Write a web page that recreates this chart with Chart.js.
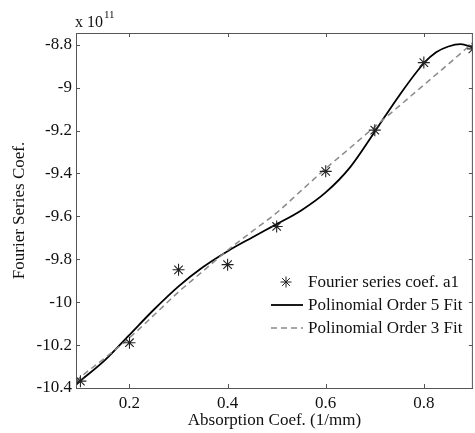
<!DOCTYPE html>
<html>
<head>
<meta charset="utf-8">
<script src="https://cdn.jsdelivr.net/npm/chart.js@4.4.1/dist/chart.umd.min.js"></script>
<style>
html, body { margin: 0; padding: 0; background: #fff; overflow: hidden; }
#wrap { width: 480px; height: 433px; position: relative; }
</style>
</head>
<body>
<div id="wrap"><canvas id="myChart"></canvas></div>
<script>
// values, y in units of 1e11
var coefX = [0.1, 0.2, 0.3, 0.4, 0.5, 0.6, 0.7, 0.8, 0.9];
var coefY = [-10.368, -10.189, -9.849, -9.825, -9.647, -9.39, -9.198, -8.883, -8.819];

var fit5X = [0.091, 0.1, 0.15, 0.2, 0.25, 0.3, 0.35, 0.4, 0.45, 0.5, 0.55, 0.6, 0.65, 0.7, 0.75, 0.8, 0.825, 0.85, 0.875, 0.9];
var fit5Y = [-10.383, -10.366, -10.27, -10.152, -10.034, -9.926, -9.836, -9.762, -9.698, -9.636, -9.572, -9.488, -9.37, -9.205, -9.036, -8.886, -8.835, -8.808, -8.797, -8.812];

var fit3X = [0.091, 0.1, 0.15, 0.2, 0.25, 0.3, 0.35, 0.4, 0.45, 0.5, 0.55, 0.6, 0.65, 0.7, 0.75, 0.8, 0.85, 0.9];
var fit3Y = [-10.37, -10.35, -10.26, -10.166, -10.06, -9.952, -9.855, -9.758, -9.67, -9.583, -9.48, -9.377, -9.28, -9.182, -9.085, -8.987, -8.89, -8.79];

var xTicks = [0.2, 0.4, 0.6, 0.8];
var yTicks = [-10.4, -10.2, -10, -9.8, -9.6, -9.4, -9.2, -9, -8.8];

var labels = ["Fourier series coef. a1", "Polinomial Order 5 Fit", "Polinomial Order 3 Fit"];

function pts(xs, ys) {
    return xs.map(function (x, i) { return { x: x, y: ys[i] }; });
}

var serif = "'Liberation Serif', 'Times New Roman', serif";
var axisColor = '#555';
var textColor = '#111';

// box, inward ticks, exponent and legend
var decorations = {
    id: 'decorations',
    afterDraw: function (chart) {
        var c = chart.ctx, a = chart.chartArea;
        var xs = chart.scales.x, ys = chart.scales.y;
        c.save();
        c.strokeStyle = axisColor;
        c.lineWidth = 1;
        c.beginPath();
        c.moveTo(a.left + 0.5, a.top + 0.5);
        c.lineTo(a.right, a.top + 0.5);
        c.moveTo(a.left + 0.5, a.top);
        c.lineTo(a.left + 0.5, a.bottom + 0.5);
        c.lineTo(a.right, a.bottom + 0.5);
        c.moveTo(a.right - 0.5, a.top);
        c.lineTo(a.right - 0.5, a.bottom);
        xTicks.forEach(function (v) {
            var px = Math.round(xs.getPixelForValue(v)) + 0.5;
            c.moveTo(px, a.bottom);
            c.lineTo(px, a.bottom - 4);
            c.moveTo(px, a.top);
            c.lineTo(px, a.top + 4);
        });
        yTicks.forEach(function (v) {
            var py = Math.round(ys.getPixelForValue(v)) + 0.5;
            c.moveTo(a.left, py);
            c.lineTo(a.left + 4, py);
            c.moveTo(a.right, py);
            c.lineTo(a.right - 4, py);
        });
        c.stroke();

        // exponent
        c.fillStyle = textColor;
        c.textBaseline = 'alphabetic';
        c.textAlign = 'left';
        c.font = '16px ' + serif;
        c.fillText('x 10', 75, 27);
        var w = c.measureText('x 10').width;
        c.font = '11px ' + serif;
        c.fillText('11', 75 + w + 1, 18);

        // legend
        var ds = chart.data.datasets;
        var rows = [282, 305, 328];
        c.font = '17px ' + serif;
        c.textBaseline = 'middle';
        for (var i = 0; i < 3; i++) {
            var d = ds[i];
            c.strokeStyle = d.borderColor;
            if (i === 0) {
                c.lineWidth = 1;
                c.beginPath();
                c.moveTo(286 - 5.5, rows[i]); c.lineTo(286 + 5.5, rows[i]);
                c.moveTo(286, rows[i] - 5.5); c.lineTo(286, rows[i] + 5.5);
                c.moveTo(286 - 3.9, rows[i] - 3.9); c.lineTo(286 + 3.9, rows[i] + 3.9);
                c.moveTo(286 - 3.9, rows[i] + 3.9); c.lineTo(286 + 3.9, rows[i] - 3.9);
                c.stroke();
            } else {
                c.lineWidth = d.borderWidth;
                c.setLineDash(d.borderDash || []);
                c.beginPath();
                c.moveTo(271, rows[i]);
                c.lineTo(303, rows[i]);
                c.stroke();
                c.setLineDash([]);
            }
            c.fillStyle = textColor;
            c.fillText(d.label, 308, rows[i] + 1);
        }
        c.restore();
    }
};

var ctx = document.getElementById('myChart').getContext('2d');

var chart = new Chart(ctx, {
    type: 'scatter',
    data: {
        datasets: [{
            label: labels[0],
            data: pts(coefX, coefY),
            pointStyle: 'star',
            pointRadius: 6,
            pointBorderWidth: 1.1,
            borderColor: '#222',
            backgroundColor: '#222',
            showLine: false,
            order: 0
        },
        {
            label: labels[1],
            data: pts(fit5X, fit5Y),
            showLine: true,
            borderColor: '#000',
            borderWidth: 1.8,
            pointRadius: 0,
            cubicInterpolationMode: 'monotone',
            order: 2
        },
        {
            label: labels[2],
            data: pts(fit3X, fit3Y),
            showLine: true,
            borderColor: '#8a8a8a',
            borderWidth: 1.5,
            borderDash: [6, 4],
            pointRadius: 0,
            cubicInterpolationMode: 'monotone',
            order: 1
        }]
    },
    options: {
        responsive: true,
        maintainAspectRatio: false,
        animation: false,
        events: [],
        layout: { padding: { top: 33, right: 2.3, left: 0, bottom: 0 } },
        plugins: {
            legend: { display: false },
            tooltip: { enabled: false }
        },
        scales: {
            x: {
                type: 'linear',
                min: 0.091,
                max: 0.9,
                afterBuildTicks: function (s) { s.ticks = xTicks.map(function (v) { return { value: v }; }); },
                afterFit: function (s) { s.height = 45; },
                grid: { display: false, drawTicks: false },
                border: { display: false },
                ticks: {
                    autoSkip: false,
                    maxRotation: 0,
                    padding: 5,
                    color: textColor,
                    font: { family: serif, size: 17 },
                    callback: function (v) { return String(v); }
                },
                title: {
                    display: true,
                    text: 'Absorption Coef. (1/mm)',
                    color: textColor,
                    font: { family: serif, size: 17 },
                    padding: { top: 0, bottom: 2 }
                }
            },
            y: {
                type: 'linear',
                min: -10.4,
                max: -8.745,
                afterBuildTicks: function (s) { s.ticks = yTicks.map(function (v) { return { value: v }; }); },
                afterFit: function (s) { s.width = 76; },
                grid: { display: false, drawTicks: false },
                border: { display: false },
                ticks: {
                    autoSkip: false,
                    padding: 4,
                    color: textColor,
                    font: { family: serif, size: 17 },
                    callback: function (v) { return String(v); }
                },
                title: {
                    display: true,
                    text: 'Fourier Series Coef.',
                    color: textColor,
                    font: { family: serif, size: 17 },
                    padding: { top: 9, bottom: 0 }
                }
            }
        }
    },
    plugins: [decorations]
});
</script>
</body>
</html>
